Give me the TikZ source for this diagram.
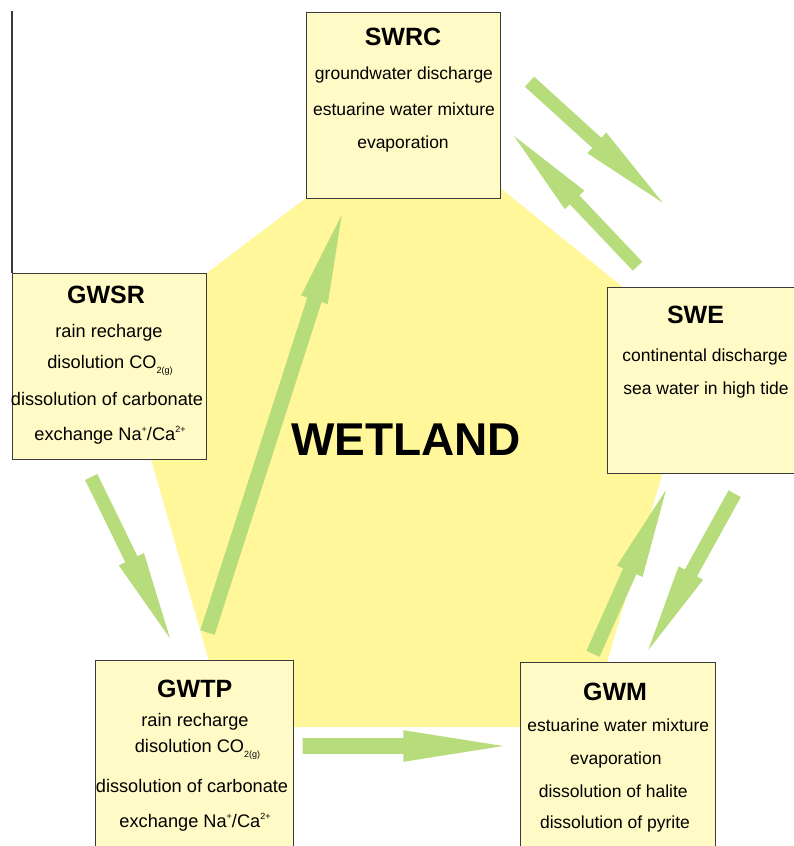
\documentclass[tikz,border=0pt]{standalone}
\usepackage{fontspec}
\setmainfont{Liberation Sans}
\usetikzlibrary{calc}
\definecolor{wetyellow}{HTML}{FFF799}
\definecolor{boxfill}{HTML}{FFFAC6}
\definecolor{arrowgreen}{HTML}{B7DC7C}
\definecolor{edgegray}{HTML}{3A3A3A}
\newcommand\mysub[1]{\raisebox{-0.55ex}{\fontsize{9}{9}\selectfont #1}}
\newcommand\mysup[1]{\raisebox{0.8ex}{\fontsize{9}{9}\selectfont #1}}
% tail, tip, shaft half width, head half width, head length
\newcommand\fatarrow[5]{%
  \path coordinate (hb) at ($(#2)!#5!(#1)$);
  \fill[arrowgreen] ($(#1)!#3!90:(#2)$) -- ($(hb)!#3!90:(#2)$) -- ($(hb)!#4!90:(#2)$) -- (#2)
    -- ($(hb)!#4!-90:(#2)$) -- ($(hb)!#3!-90:(#2)$) -- ($(#1)!#3!-90:(#2)$) -- cycle;}
\begin{document}
\begin{tikzpicture}[x=1pt,y=-1pt,
  boxstyle/.style={draw=edgegray, line width=1.2pt, fill=boxfill, anchor=north west, inner sep=0pt},
  titletext/.style={font=\bfseries\fontsize{25}{25}\selectfont, anchor=base, inner sep=0pt},
  bodytext/.style={font=\fontsize{17.5}{18}\selectfont, anchor=base, inner sep=0pt},
  bodytextb/.style={font=\fontsize{18.2}{19}\selectfont, anchor=base, inner sep=0pt}]
\useasboundingbox (0,0) rectangle (794,846);
\clip (0,0) rectangle (794,846);

% wetland pentagon
\fill[wetyellow] (413,117) -- (699,349) -- (588,727) -- (228,727) -- (117,341) -- cycle;

% boxes
\node[boxstyle, minimum width=194pt, minimum height=186pt] (swrc) at (306,12) {};
\node[boxstyle, minimum width=194pt, minimum height=186pt] (gwsr) at (12,273) {};
\node[boxstyle, minimum width=200pt, minimum height=186pt] (swe) at (607,287) {};
\node[boxstyle, minimum width=198pt, minimum height=200pt] (gwtp) at (95,660) {};
\node[boxstyle, minimum width=195pt, minimum height=200pt] (gwm) at (520,662) {};

% left vertical line
\coordinate (lineTop) at (12,11);
\draw[edgegray, line width=1.2pt] (lineTop) -- (gwsr.north west);

% arrows
\coordinate (aAs) at (529.5,81.7);  \coordinate (aAe) at (662.7,202.7);
\coordinate (aBs) at (637.5,266.2); \coordinate (aBe) at (514,136);
\coordinate (aCs) at (734.7,493.7); \coordinate (aCe) at (648.3,650);
\coordinate (aDs) at (593,653.8);   \coordinate (aDe) at (666,490);
\coordinate (aEs) at (91.2,477);    \coordinate (aEe) at (170,638.3);
\coordinate (aFs) at (207.5,632.5); \coordinate (aFe) at (341.7,215);
\coordinate (aGs) at (302.7,746);   \coordinate (aGe) at (503.3,746);
\fatarrow{aAs}{aAe}{6.8pt}{14pt}{89pt}
\fatarrow{aBs}{aBe}{6.5pt}{13.5pt}{88pt}
\fatarrow{aCs}{aCe}{7pt}{14pt}{88pt}
\fatarrow{aDs}{aDe}{7.2pt}{14pt}{89pt}
\fatarrow{aEs}{aEe}{6.8pt}{14pt}{88pt}
\fatarrow{aFs}{aFe}{7.5pt}{14pt}{89pt}
\fatarrow{aGs}{aGe}{7.9pt}{15.8pt}{100pt}

% wetland label
\node[font=\bfseries\fontsize{46}{46}\selectfont, anchor=base, inner sep=0pt] (wet) at (406,455) {WETLAND};

% SWRC
\node[titletext] (t1) at (403,45) {SWRC};
\node[bodytext] (t1a) at (404,79) {groundwater discharge};
\node[bodytext] (t1b) at (404,115) {estuarine water mixture};
\node[bodytext] (t1c) at (403,148) {evaporation};

% GWSR
\node[titletext] (t2) at (106,303) {GWSR};
\node[bodytextb] (t2a) at (109,337) {rain recharge};
\node[bodytextb] (t2b) at (110,368) {disolution CO\mysub{2(g)}};
\node[bodytextb] (t2c) at (107,405) {dissolution of carbonate};
\node[bodytextb] (t2d) at (110,440) {exchange Na\mysup{+}/Ca\mysup{2+}};

% SWE
\node[titletext] (t3) at (695.5,323) {SWE};
\node[bodytext] (t3a) at (705,361) {continental discharge};
\node[bodytext] (t3b) at (706,394) {sea water in high tide};

% GWTP
\node[titletext] (t4) at (194.7,697) {GWTP};
\node[bodytextb] (t4a) at (195,726) {rain recharge};
\node[bodytextb] (t4b) at (197.5,752) {disolution CO\mysub{2(g)}};
\node[bodytextb] (t4c) at (192,792) {dissolution of carbonate};
\node[bodytextb] (t4d) at (195,827) {exchange Na\mysup{+}/Ca\mysup{2+}};

% GWM
\node[titletext] (t5) at (615,700) {GWM};
\node[bodytext] (t5a) at (618.3,731) {estuarine water mixture};
\node[bodytext] (t5b) at (615.8,764) {evaporation};
\node[bodytext] (t5c) at (613.3,797) {dissolution of halite};
\node[bodytext] (t5d) at (615,828) {dissolution of pyrite};
\end{tikzpicture}
\end{document}
